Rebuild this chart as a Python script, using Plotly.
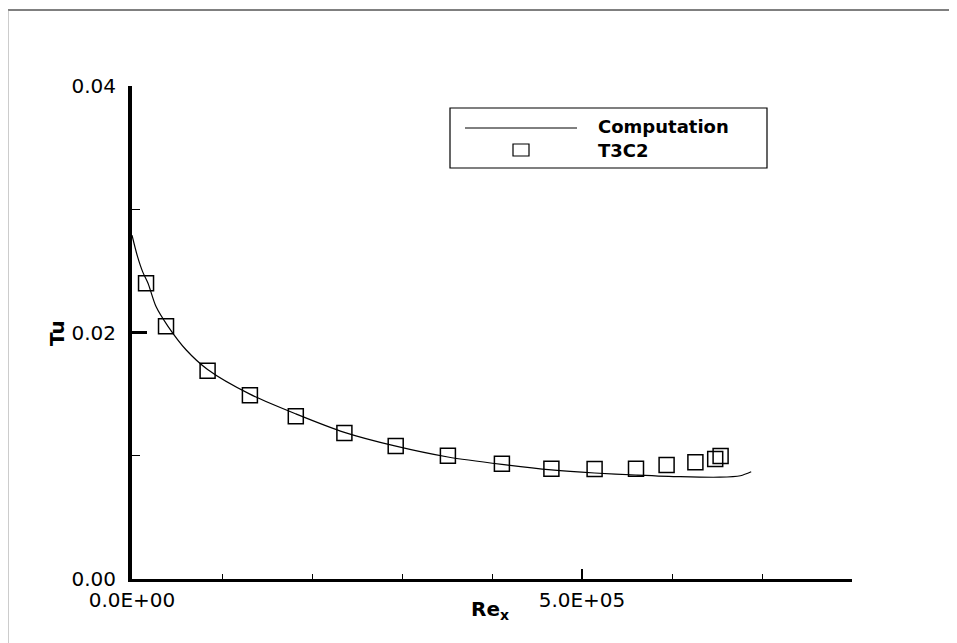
import plotly.graph_objects as go

# Computation curve
comp_rex = [0, 6000, 12000, 17800, 26700, 40000, 60000, 84000, 131000, 182000,
            236000, 292000, 351000, 411000, 466000, 514000, 560000, 609000,
            653000, 676000, 688000]
comp_tu = [0.0279, 0.0262, 0.0249, 0.0240, 0.0221, 0.0205, 0.0186, 0.0170, 0.0150, 0.0134,
           0.0119, 0.0108, 0.0099, 0.0093, 0.00885, 0.0086, 0.00844, 0.00830,
           0.00826, 0.00838, 0.0087]

# T3C2 experiment
exp_rex = [15600, 37800, 84000, 131000, 182000, 236000, 293000, 351000, 411000, 466000,
           514000, 560000, 594000, 626000, 648000, 654000]
exp_tu = [0.0240, 0.0205, 0.0169, 0.0149, 0.0132, 0.01185, 0.0108, 0.0100, 0.00936, 0.00895,
          0.00893, 0.00895, 0.00925, 0.00947, 0.00974, 0.00998]

x_tickvals = [0, 500000]
x_ticktext = ["0.0E+00", "5.0E+05"]
y_tickvals = [0.0, 0.02, 0.04]
y_ticktext = ["0.00", "0.02", "0.04"]

legend_labels = ["Computation", "T3C2"]

OFF = 8  # page body margin
W, H = 957 - OFF, 643 - OFF
L, R, T, B = 132 - OFF, 852 - OFF, 86 - OFF, 579 - OFF


def px(x):
    return (x - OFF - L) / (R - L)


def py(y):
    return (B - (y - OFF)) / (B - T)


fig = go.Figure()
fig.add_trace(go.Scatter(x=comp_rex, y=comp_tu, mode="lines", name=legend_labels[0],
                         line=dict(color="black", width=1.2, shape="spline", smoothing=0.8),
                         showlegend=False))
fig.add_trace(go.Scatter(x=exp_rex, y=exp_tu, mode="markers", name=legend_labels[1],
                         marker=dict(symbol="square-open", size=15, color="black",
                                     line=dict(width=1.5, color="black")),
                         showlegend=False))

tick_font = dict(family="DejaVu Sans", size=20, color="black")
title_font = dict(family="DejaVu Sans", size=20, color="black")

fig.update_xaxes(range=[0, 800000], showgrid=False, zeroline=False,
                 showline=True, linecolor="black", linewidth=3,
                 tickmode="array", tickvals=x_tickvals, ticktext=x_ticktext,
                 ticks="inside", ticklen=10, tickwidth=2, tickcolor="black",
                 minor=dict(dtick=100000, tick0=0, ticks="inside", ticklen=5,
                            tickwidth=1, tickcolor="black", showgrid=False),
                 tickfont=tick_font, ticklabelstandoff=1)
fig.update_yaxes(range=[0, 0.04], showgrid=False, zeroline=False,
                 showline=True, linecolor="black", linewidth=4,
                 tickmode="array", tickvals=y_tickvals, ticktext=y_ticktext,
                 ticks="inside", ticklen=15, tickwidth=3, tickcolor="black",
                 minor=dict(dtick=0.01, tick0=0, ticks="inside", ticklen=8,
                            tickwidth=1, tickcolor="black", showgrid=False),
                 tickfont=tick_font, ticklabelstandoff=8)

shapes = []
# page frame (top and left)
shapes.append(dict(type="line", xref="paper", yref="paper",
                   x0=px(7), x1=px(957), y0=py(10), y1=py(10),
                   line=dict(color="black", width=1)))
shapes.append(dict(type="line", xref="paper", yref="paper",
                   x0=px(8), x1=px(8), y0=py(10), y1=py(643),
                   line=dict(color="#999999", width=1)))
# legend box
shapes.append(dict(type="rect", xref="paper", yref="paper",
                   x0=px(450), x1=px(767), y0=py(108), y1=py(168),
                   line=dict(color="black", width=1.2), fillcolor="white", layer="below"))
shapes.append(dict(type="line", xref="paper", yref="paper",
                   x0=px(465), x1=px(577), y0=py(128), y1=py(128),
                   line=dict(color="black", width=1)))
shapes.append(dict(type="rect", xref="paper", yref="paper",
                   x0=px(513), x1=px(529), y0=py(144), y1=py(156),
                   line=dict(color="black", width=1.2)))

legend_font = dict(family="DejaVu Sans", size=18, color="black")
annotations = [
    dict(text="<b>" + legend_labels[0] + "</b>", xref="paper", yref="paper",
         x=px(596), y=py(127), xanchor="left", yanchor="middle", showarrow=False,
         font=legend_font),
    dict(text="<b>" + legend_labels[1] + "</b>", xref="paper", yref="paper",
         x=px(596), y=py(150), xanchor="left", yanchor="middle", showarrow=False,
         font=legend_font),
    dict(text="<b>Tu</b>", xref="paper", yref="paper", x=px(57), y=py(333),
         xanchor="center", yanchor="middle", textangle=-90, showarrow=False,
         font=title_font),
    dict(text="<b>Re<sub>x</sub></b>", xref="paper", yref="paper", x=px(490), y=py(610),
         xanchor="center", yanchor="middle", showarrow=False, font=title_font),
]

fig.update_layout(width=W, height=H, margin=dict(l=L, r=W - R, t=T, b=H - B),
                  plot_bgcolor="white", paper_bgcolor="white",
                  shapes=shapes, annotations=annotations, showlegend=False)

fig.write_html("out.html")
